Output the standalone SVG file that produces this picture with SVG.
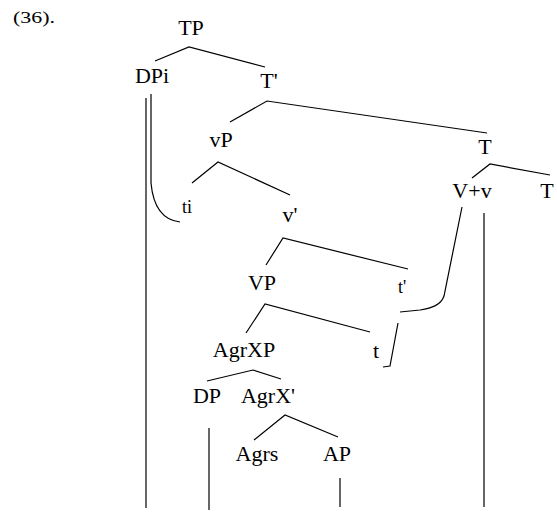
<svg xmlns="http://www.w3.org/2000/svg" width="557" height="512" viewBox="0 0 557 512">
<style>
text{font-family:"Liberation Serif","Times New Roman",serif;font-size:22px;fill:#000;text-anchor:middle}
.s{font-size:18px}
.lbl{text-anchor:start;font-size:17px}
.e{stroke:#000;stroke-width:1.2;fill:none}
</style>
<rect width="557" height="512" fill="#fff"/>
<text class="lbl" x="13" y="23" textLength="42" lengthAdjust="spacingAndGlyphs">(36).</text>
<g id="nodes">
<g id="TP"><text x="191" y="35">TP</text></g>
<g id="DPi"><text x="152" y="83">DPi</text></g>
<g id="Tbar"><text x="269" y="88">T'</text></g>
<g id="vP"><text x="221" y="147">vP</text></g>
<g id="T"><text x="485" y="154">T</text></g>
<g id="Vv"><text x="472" y="198">V+v</text></g>
<g id="T2"><text x="547" y="198">T</text></g>
<g id="ti"><text class="s" x="187" y="213">ti</text></g>
<g id="vbar"><text x="290" y="222">v'</text></g>
<g id="VP"><text x="262" y="290">VP</text></g>
<g id="tprime"><text class="s" x="402" y="293">t'</text></g>
<g id="AgrXP"><text x="244" y="357">AgrXP</text></g>
<g id="t"><text x="376" y="358">t</text></g>
<g id="DP"><text x="207" y="403">DP</text></g>
<g id="AgrXbar"><text x="268" y="403">AgrX'</text></g>
<g id="Agrs"><text x="257" y="461">Agrs</text></g>
<g id="AP"><text x="337" y="461">AP</text></g>
</g>
<g id="connectors" class="e">
<path class="e" d="M155,61 L189,47 L265,67"/>
<path class="e" d="M230,122 L267,101 L487,133"/>
<path class="e" d="M192,183 L218,162 L290,195"/>
<path class="e" d="M472,178 L490,164 L550,175"/>
<path class="e" d="M266,265 L283,238 L408,269"/>
<path class="e" d="M246,333 L265,304 L370,332"/>
<path class="e" d="M207,381 L253,370 L281,379"/>
<path class="e" d="M254,440 L285,415 L338,437"/>
<path class="e" d="M146,98 L146,508"/>
<path class="e" d="M151,94 L151,183 C153,205 162,220 180,222"/>
<path class="e" d="M209,428 L209,510"/>
<path class="e" d="M340,478 L340,507"/>
<path class="e" d="M484,213 L484,507"/>
<path class="e" d="M462,207 L444,296 C441,305 432,308 420,310 L400,312"/>
<path class="e" d="M398,323 L390,366 L383,367"/>
</g>
</svg>
